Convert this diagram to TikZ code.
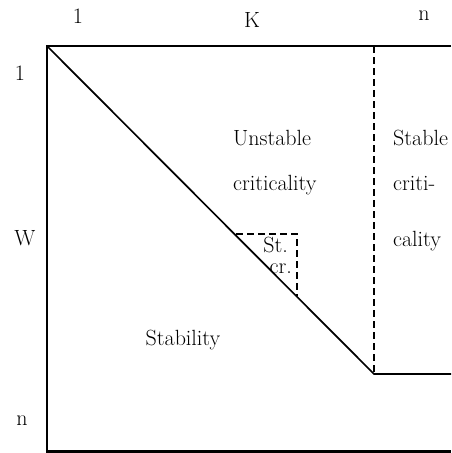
\documentclass[tikz,border=0pt]{standalone}
\usepackage{tikz}
\usetikzlibrary{positioning, calc}

\begin{document}
\begin{tikzpicture}[
        x=1pt, y=-1pt,
        frame/.style={line width=2.2pt},
        curve/.style={line width=1.7pt},
        border/.style={line width=2pt, dash pattern=on 7pt off 4pt},
        lbl/.style={font=\fontsize{22}{26}\selectfont, inner sep=0pt}
    ]
    \useasboundingbox (0,0) rectangle (451,453);

    % ==========================================
    % 1. CORNERS
    % ==========================================
    \coordinate (tl)    at (47,46);
    \coordinate (tr)    at (451,46);
    \coordinate (bl)    at (47,451.5);
    \coordinate (br)    at (451,451.5);
    \coordinate (kink)  at (374,374);
    \coordinate (ktop)  at (374,46);
    \coordinate (kend)  at (451,374);
    \coordinate (sq_a)  at (236,234);
    \coordinate (sq_b)  at (297,234);
    \coordinate (sq_c)  at (297,296);

    % ==========================================
    % 2. LINES
    % ==========================================
    \draw[frame] (tr) -- (tl) -- (bl) -- (br);
    \draw[curve] (tl) -- (kink) -- (kend);
    \draw[border] (ktop) -- (kink);
    \draw[border] (sq_a) -- (sq_b) -- (sq_c);

    % ==========================================
    % 3. AXIS LABELS
    % ==========================================
    \node[lbl, anchor=base] (k_one) at (78,23)  {1};
    \node[lbl, anchor=base] (k_mid) at (252,27) {K};
    \node[lbl, anchor=base] (k_n)   at (424,20) {n};

    \node[lbl, anchor=base] (w_one) at (20,80)  {1};
    \node[lbl, anchor=base] (w_mid) at (25,245) {W};
    \node[lbl, anchor=base] (w_n)   at (22,425) {n};

    % ==========================================
    % 4. REGION LABELS
    % ==========================================
    \node[lbl, anchor=base west] (unst1) at (233,145) {Unstable};
    \node[lbl, anchor=base west] (unst2) at (233,190) {criticality};

    \node[lbl, anchor=base west] (stab1) at (393,145) {Stable};
    \node[lbl, anchor=base west] (stab2) at (393,190) {criti-};
    \node[lbl, anchor=base west] (stab3) at (393,246) {cality};

    \node[lbl, anchor=base east] (st_a) at (288,252) {St.};
    \node[lbl, anchor=base east] (st_b) at (292,273) {cr.};

    \node[lbl, anchor=base] (stable) at (183,345) {Stability};

\end{tikzpicture}
\end{document}
